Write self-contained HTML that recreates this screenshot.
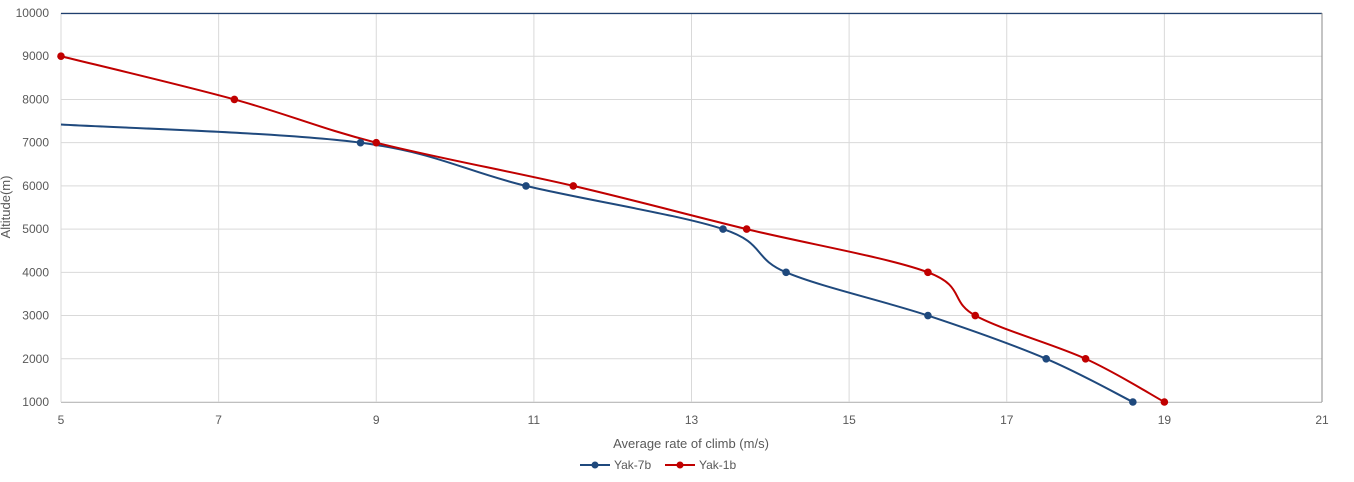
<!DOCTYPE html>
<html><head><meta charset="utf-8"><style>
html,body{margin:0;padding:0;background:#fff;}
svg{display:block;font-family:"Liberation Sans",sans-serif;}
</style></head><body>
<svg id="s" width="1354" height="482" viewBox="0 0 1354 482">
<g id="grid" stroke="#d9d9d9" stroke-width="1"></g>
<line x1="61" y1="13.5" x2="1322" y2="13.5" stroke="#1f3f6e" stroke-width="1.2"/>
<line x1="1322" y1="13" x2="1322" y2="402" stroke="#8a8a8a" stroke-width="1"/>
<line x1="61" y1="402.5" x2="1322" y2="402.5" stroke="#bfbfbf" stroke-width="1"/>
<g id="lbl" fill="#595959" font-size="12"></g>
<text x="691" y="448" text-anchor="middle" fill="#595959" font-size="13">Average rate of climb (m/s)</text>
<text transform="translate(10,207) rotate(-90)" text-anchor="middle" fill="#595959" font-size="13">Altitude(m)</text>
<path id="p1" fill="none" stroke="#1f497d" stroke-width="2"/>
<path id="p2" fill="none" stroke="#c00000" stroke-width="2"/>
<g id="m"></g>
<line x1="580" y1="465" x2="610" y2="465" stroke="#1f497d" stroke-width="2"/><circle cx="595" cy="465" r="3.5" fill="#1f497d"/>
<text x="614" y="469" fill="#595959" font-size="12">Yak-7b</text>
<line x1="665" y1="465" x2="695" y2="465" stroke="#c00000" stroke-width="2"/><circle cx="680" cy="465" r="3.5" fill="#c00000"/>
<text x="699" y="469" fill="#595959" font-size="12">Yak-1b</text>
</svg>
<script>
var X=function(v){return 61+(v-5)*1261/16},Y=function(v){return 402-(v-1000)*389/9000};
var g=document.getElementById('grid'),l=document.getElementById('lbl'),ns='http://www.w3.org/2000/svg',h='';
var gl='',lb='';
for(var v=5;v<=21;v+=2){var x=X(v);gl+='<line x1="'+x+'" y1="13" x2="'+x+'" y2="402"/>';lb+='<text x="'+x+'" y="424" text-anchor="middle">'+v+'</text>';}
for(var a=1000;a<=10000;a+=1000){var y=Y(a);gl+='<line x1="61" y1="'+y+'" x2="1322" y2="'+y+'"/>';lb+='<text x="49" y="'+(y+4)+'" text-anchor="end">'+a+'</text>';}
g.innerHTML=gl;l.innerHTML=lb;
function path(pts){var d='M'+pts[0][0]+','+pts[0][1];for(var i=0;i<pts.length-1;i++){var p0=pts[i-1]||pts[i],p1=pts[i],p2=pts[i+1],p3=pts[i+2]||p2;var t=6;d+=' C'+(p1[0]+(p2[0]-p0[0])/t)+','+(p1[1]+(p2[1]-p0[1])/t)+' '+(p2[0]-(p3[0]-p1[0])/t)+','+(p2[1]-(p3[1]-p1[1])/t)+' '+p2[0]+','+p2[1];}return d;}
var a1=[[5,7420],[8.8,7000],[10.9,6000],[13.4,5000],[14.2,4000],[16,3000],[17.5,2000],[18.6,1000]].map(function(p){return[X(p[0]),Y(p[1])]});
var a2=[[5,9000],[7.2,8000],[9,7000],[11.5,6000],[13.7,5000],[16,4000],[16.6,3000],[18,2000],[19,1000]].map(function(p){return[X(p[0]),Y(p[1])]});
document.getElementById('p1').setAttribute('d',path(a1));
document.getElementById('p2').setAttribute('d',path(a2));
var m='';a1.slice(1).forEach(function(p){m+='<circle cx="'+p[0]+'" cy="'+p[1]+'" r="3.8" fill="#1f497d"/>'});
a2.forEach(function(p){m+='<circle cx="'+p[0]+'" cy="'+p[1]+'" r="3.8" fill="#c00000"/>'});
document.getElementById('m').innerHTML=m;
</script>
</body></html>
